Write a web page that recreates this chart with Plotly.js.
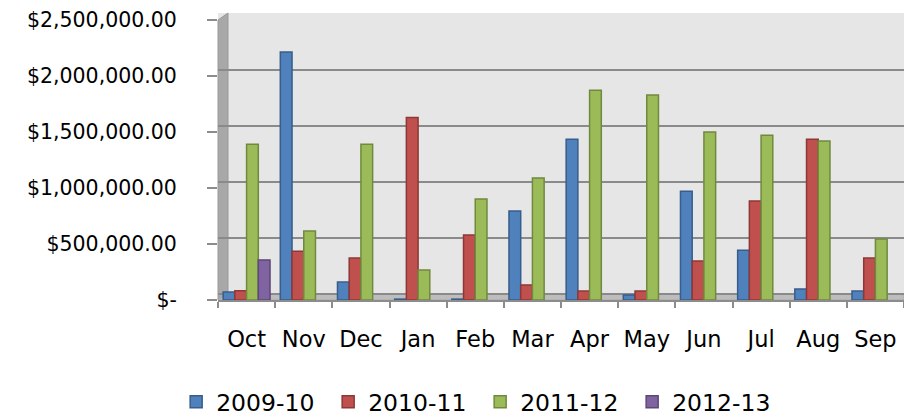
<!DOCTYPE html>
<html>
<head>
<meta charset="utf-8">
<script src="https://cdn.plot.ly/plotly-3.0.1.min.js"></script>
<style>
	html, body {margin: 0; padding: 0; background: #ffffff;}
	#chart {width: 904px; height: 416px;}
</style>
</head>
<body>
<div id="chart"></div>
<script>
const months = ['Oct', 'Nov', 'Dec', 'Jan', 'Feb', 'Mar', 'Apr', 'May', 'Jun', 'Jul', 'Aug', 'Sep'];

const fy_2009_10 = [72000, 2215000, 160000, 8000, 8000, 795000, 1435000, 45000, 972000, 445000, 98000, 80000];
const fy_2010_11 = [82000, 436000, 375000, 1630000, 580000, 135000, 80000, 80000, 348000, 884000, 1436000, 375000];
const fy_2011_12 = [1390000, 615000, 1390000, 268000, 902000, 1090000, 1872000, 1830000, 1500000, 1470000, 1420000, 545000];
const fy_2012_13 = [358000, null, null, null, null, null, null, null, null, null, null, null];

const tick_values = [0, 500000, 1000000, 1500000, 2000000, 2500000];
const tick_labels = ['$-', '$500,000.00', '$1,000,000.00', '$1,500,000.00', '$2,000,000.00', '$2,500,000.00'];

const series = [
	{name: '2009-10', y: fy_2009_10, color: '#4f81bd', edge: '#385d8a'},
	{name: '2010-11', y: fy_2010_11, color: '#c0504d', edge: '#8c3836'},
	{name: '2011-12', y: fy_2011_12, color: '#9bbb59', edge: '#71893f'},
	{name: '2012-13', y: fy_2012_13, color: '#8064a2', edge: '#5c4776'}
];

// the back wall sits a few pixels up and right of the front axes (fake 3D)
const px_per_value = 280 / 2500000;
const wall_shift = 6 / px_per_value;
const y_top = 2500000 + 7 / px_per_value;

const chart_data = series.map(s => ({
	type: 'bar',
	x: months,
	y: s.y,
	name: s.name,
	marker: {
		color: s.color,
		line: {color: s.edge, width: 1.5}
	},
	hoverinfo: 'skip'
}));

// invisible trace so the shifted back-wall grid axis exists
chart_data.push({
	type: 'scatter',
	mode: 'none',
	x: months,
	y: months.map(() => null),
	yaxis: 'y2',
	showlegend: false,
	hoverinfo: 'skip'
});

const font_family = '"DejaVu Sans", "Liberation Sans", sans-serif';

const chart_layout = {
	width: 904,
	height: 416,
	margin: {l: 218, r: 0, t: 13, b: 116, autoexpand: false},
	paper_bgcolor: '#ffffff',
	plot_bgcolor: '#e6e6e6',
	font: {family: font_family, size: 21, color: '#000000'},
	showlegend: true,
	bargap: 0.18,
	bargroupgap: 0,
	xaxis: {
		type: 'category',
		range: [-0.5, 11.5],
		automargin: false,
		showline: true,
		linecolor: '#8c8c8c',
		linewidth: 2,
		ticks: 'outside',
		tickson: 'boundaries',
		ticklen: 6,
		tickwidth: 2,
		tickcolor: '#8c8c8c',
		ticklabelstandoff: 18,
		showgrid: false,
		zeroline: false,
		tickfont: {family: font_family, size: 22.5, color: '#000000'}
	},
	yaxis: {
		range: [0, y_top],
		automargin: false,
		tickmode: 'array',
		tickvals: tick_values,
		ticktext: tick_labels,
		ticks: 'outside',
		ticklen: 10,
		tickwidth: 2,
		tickcolor: '#8c8c8c',
		ticklabelstandoff: 26,
		showline: false,
		showgrid: false,
		zeroline: false,
		tickfont: {family: font_family, size: 20.5, color: '#000000'}
	},
	yaxis2: {
		overlaying: 'y',
		range: [-wall_shift, y_top - wall_shift],
		tickmode: 'array',
		tickvals: tick_values,
		showticklabels: false,
		showgrid: true,
		gridcolor: '#8a8a8a',
		gridwidth: 2.5,
		zeroline: false,
		showline: false
	},
	shapes: [
		// left wall
		{
			type: 'path', xref: 'paper', yref: 'paper', layer: 'between',
			path: 'M 0 0 L 0 ' + (280 / 287) + ' L ' + (10 / 686) + ' 1 L ' + (10 / 686) + ' ' + (6 / 287) + ' Z',
			fillcolor: '#a8a8a8', line: {color: '#9a9a9a', width: 1}
		},
		// floor
		{
			type: 'path', xref: 'paper', yref: 'paper', layer: 'between',
			path: 'M 0 0 L ' + (10 / 686) + ' ' + (6 / 287) + ' L 1 ' + (6 / 287) + ' L 1 0 Z',
			fillcolor: '#bdbdbd', line: {color: '#a8a8a8', width: 1}
		}
	],
	legend: {
		orientation: 'h',
		x: -0.061,
		xanchor: 'left',
		y: -0.355,
		yanchor: 'middle',
		entrywidth: 107,
		entrywidthmode: 'pixels',
		font: {family: font_family, size: 23.5, color: '#000000'},
		bgcolor: 'rgba(0,0,0,0)'
	}
};

Plotly.newPlot('chart', chart_data, chart_layout, {displayModeBar: false, staticPlot: true});
</script>
</body>
</html>
